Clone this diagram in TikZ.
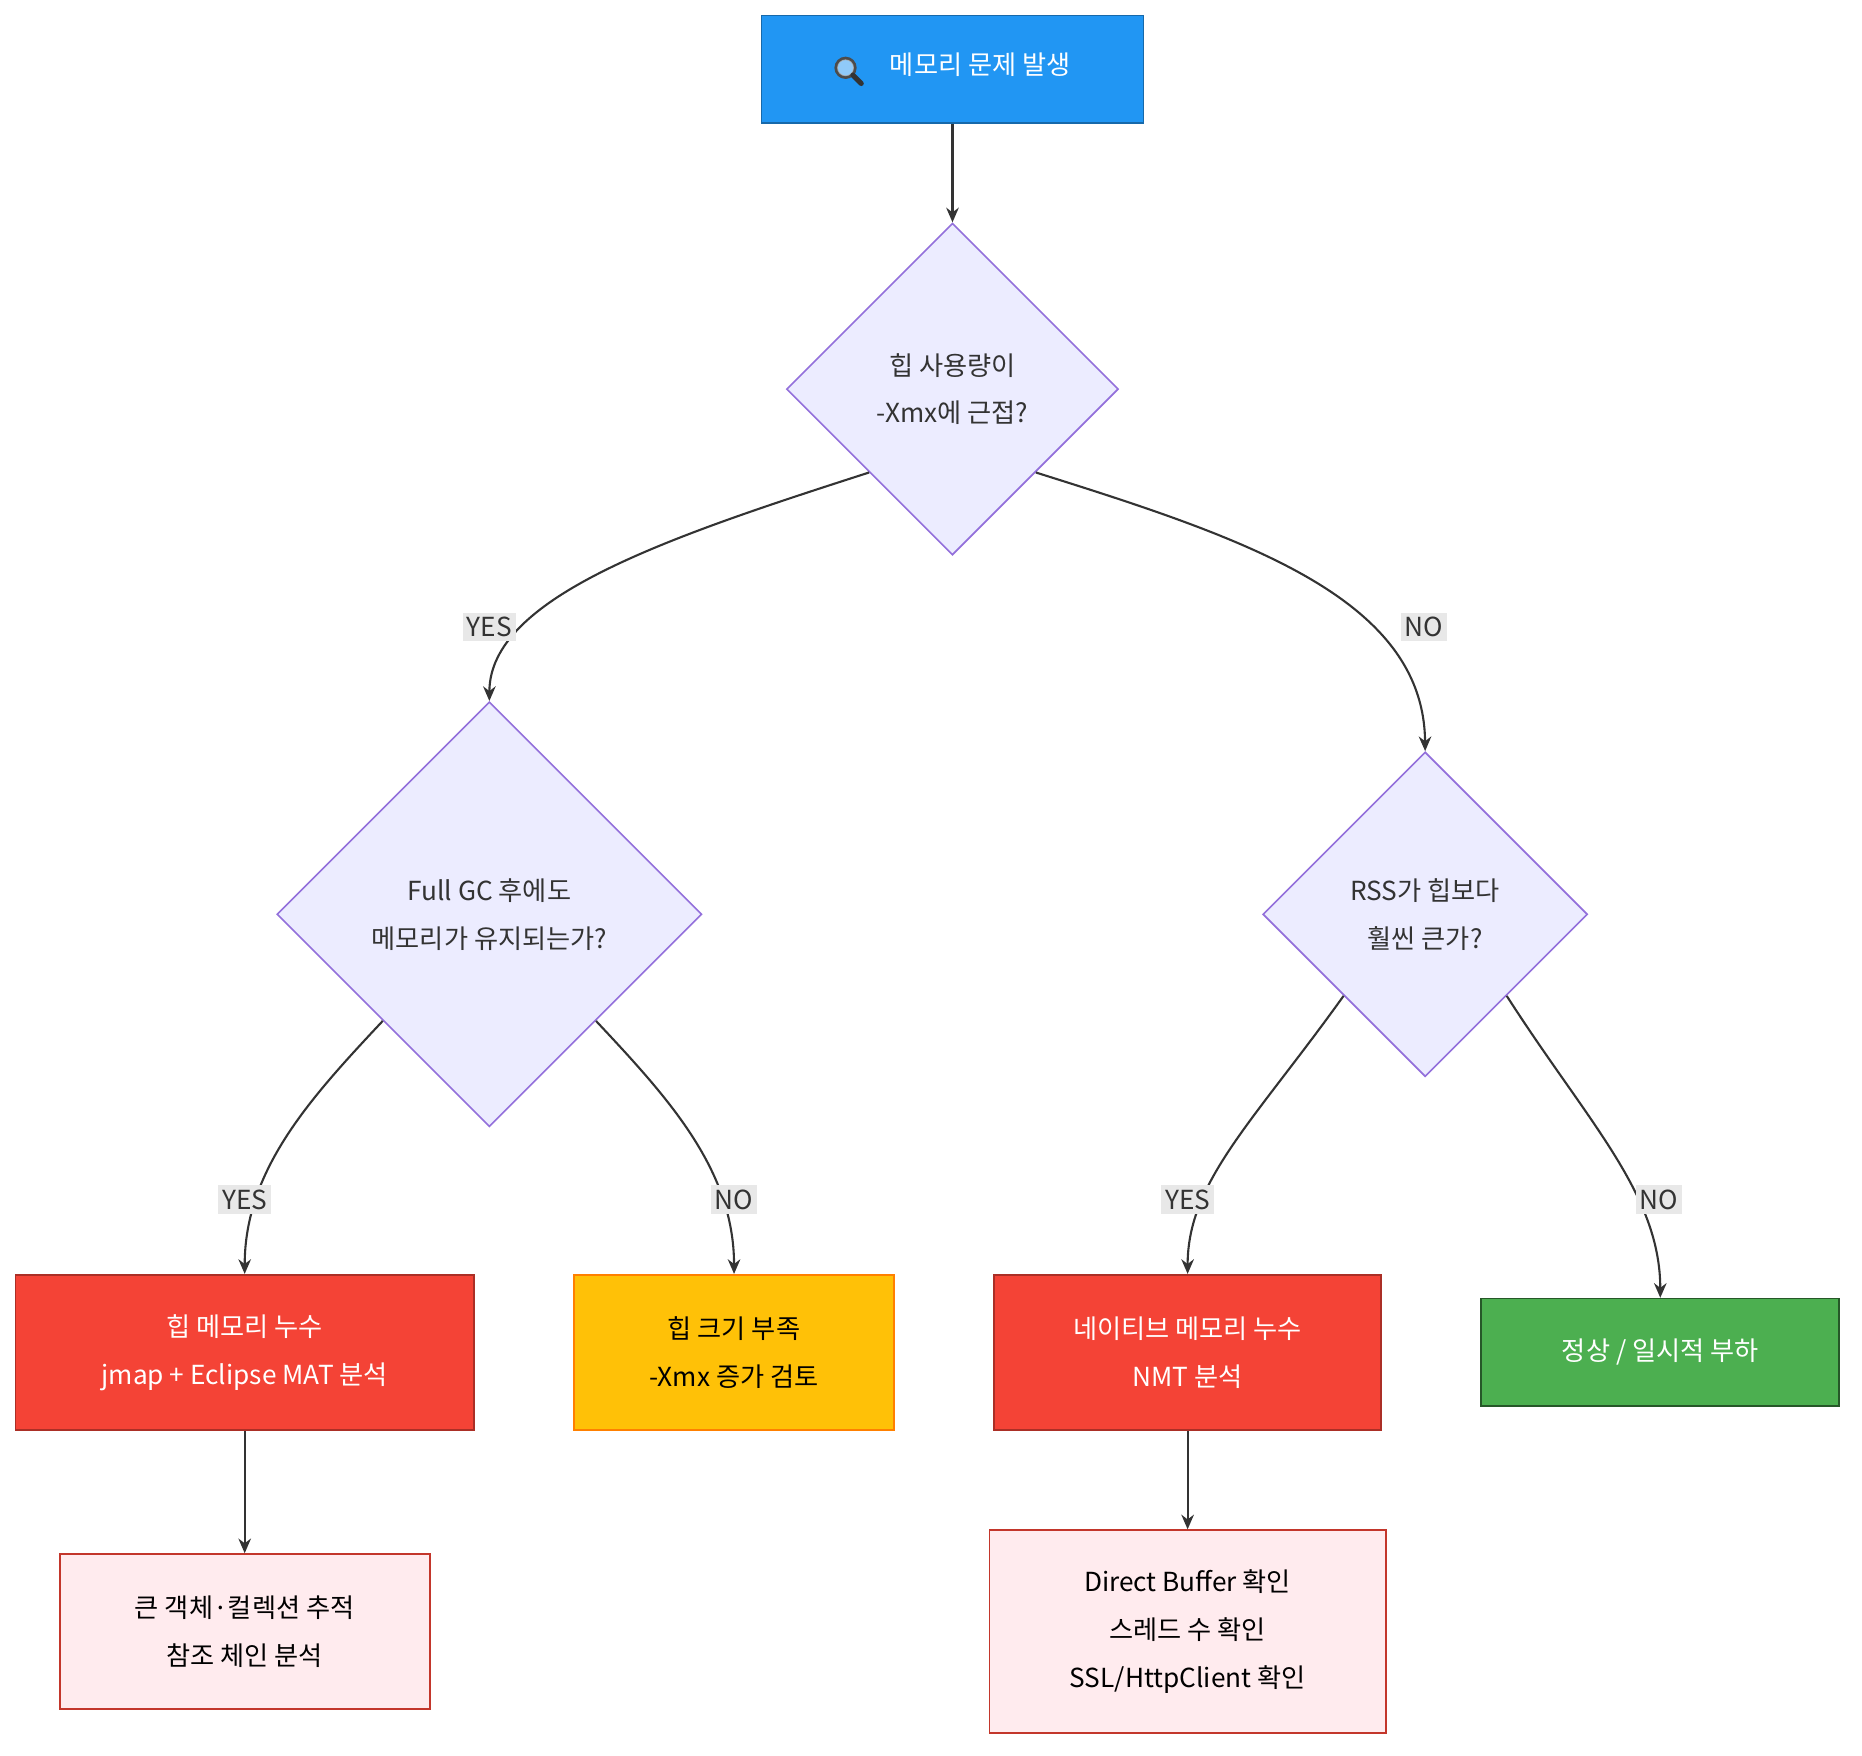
\documentclass[tikz,border=0pt]{standalone}
\usepackage{fontspec}
\setmainfont{Noto Sans CJK KR}
\usetikzlibrary{shapes.geometric,arrows.meta}
\definecolor{dfill}{HTML}{ECECFF}
\definecolor{dline}{HTML}{9370DB}
\definecolor{eline}{HTML}{333333}
\definecolor{lblbg}{HTML}{E8E8E8}
\definecolor{cblue}{HTML}{2196F3}
\definecolor{cred}{HTML}{F44336}
\definecolor{cyellow}{HTML}{FFC107}
\definecolor{cgreen}{HTML}{4CAF50}
\definecolor{cpink}{HTML}{FFEBEE}
\begin{document}
\begin{tikzpicture}[x=0.02cm,y=-0.02cm,
  every node/.style={font=\fontsize{12.5}{22.8}\selectfont, align=center, inner sep=0pt},
  box/.style={rectangle, line width=0.8pt},
  dia/.style={diamond, draw=dline, fill=dfill, line width=0.8pt},
  edge/.style={draw=eline, line width=1pt, -{Stealth[length=7pt,width=6pt]}},
  lbl/.style={fill=lblbg, text=eline, inner sep=2pt}]
\useasboundingbox (0,0) rectangle (1560,1471);
\node[box, fill=cblue, draw=cblue!70!black, text=white, minimum width=320*0.02cm, minimum height=90*0.02cm] (start) at (798,58)
 {\tikz[baseline=-3pt,x=1pt,y=1pt]{\draw[line width=1.6pt,gray!60!black] (0,0) circle (4.5); \fill[white,opacity=.5](0,0) circle(4); \draw[line width=2.4pt,eline,line cap=round] (3.5,-3.5)--(7.5,-7.5);}\quad 메모리 문제 발생};
\node[dia, minimum width=278*0.02cm, minimum height=278*0.02cm] (d1) at (798,326) {};
\node[text=eline] at (798,326) {힙 사용량이\\-Xmx에 근접?};
\node[dia, minimum width=356*0.02cm, minimum height=356*0.02cm] (d2) at (410,766) {};
\node[text=eline] at (410,766) {Full GC 후에도\\메모리가 유지되는가?};
\node[dia, minimum width=272*0.02cm, minimum height=272*0.02cm] (d3) at (1194,766) {};
\node[text=eline] at (1194,766) {RSS가 힙보다\\훨씬 큰가?};
\node[box, fill=cred, draw=cred!70!black, text=white, minimum width=384*0.02cm, minimum height=130*0.02cm] (heap) at (205,1133) {힙 메모리 누수\\jmap + Eclipse MAT 분석};
\node[box, fill=cyellow, draw=orange, text=black, minimum width=268*0.02cm, minimum height=130*0.02cm] (size) at (615,1133) {힙 크기 부족\\-Xmx 증가 검토};
\node[box, fill=cred, draw=cred!70!black, text=white, minimum width=324*0.02cm, minimum height=130*0.02cm] (native) at (995,1133) {네이티브 메모리 누수\\NMT 분석};
\node[box, fill=cgreen, draw=cgreen!50!black, text=white, minimum width=300*0.02cm, minimum height=90*0.02cm] (ok) at (1391,1133) {정상 / 일시적 부하};
\node[box, fill=cpink, draw=cred!80!black, text=black, minimum width=310*0.02cm, minimum height=130*0.02cm] (p1) at (205,1367) {큰 객체·컬렉션 추적\\참조 체인 분석};
\node[box, fill=cpink, draw=cred!80!black, text=black, minimum width=332*0.02cm, minimum height=170*0.02cm] (p2) at (995,1367) {Direct Buffer 확인\\스레드 수 확인\\SSL/HttpClient 확인};
\draw[edge] (start) -- (d1);
\draw[edge] (d1.south west) .. controls (560,450) and (410,500) .. (d2.north);
\draw[edge] (d1.south east) .. controls (1040,450) and (1193,500) .. (d3.north);
\draw[edge] (d2.south west) .. controls (260,920) and (205,980) .. (heap.north);
\draw[edge] (d2.south east) .. controls (560,920) and (615,980) .. (size.north);
\draw[edge] (d3.south west) .. controls (1050,940) and (995,990) .. (native.north);
\draw[edge] (d3.south east) .. controls (1330,940) and (1391,1000) .. (ok.north);
\draw[edge] (heap) -- (p1);
\draw[edge] (native) -- (p2);
\node[lbl] (l1) at (410,525) {YES};
\node[lbl] (l2) at (1193,525) {NO};
\node[lbl] (l3) at (205,1005) {YES};
\node[lbl] (l4) at (615,1005) {NO};
\node[lbl] (l5) at (995,1005) {YES};
\node[lbl] (l6) at (1390,1005) {NO};
\end{tikzpicture}
\end{document}
